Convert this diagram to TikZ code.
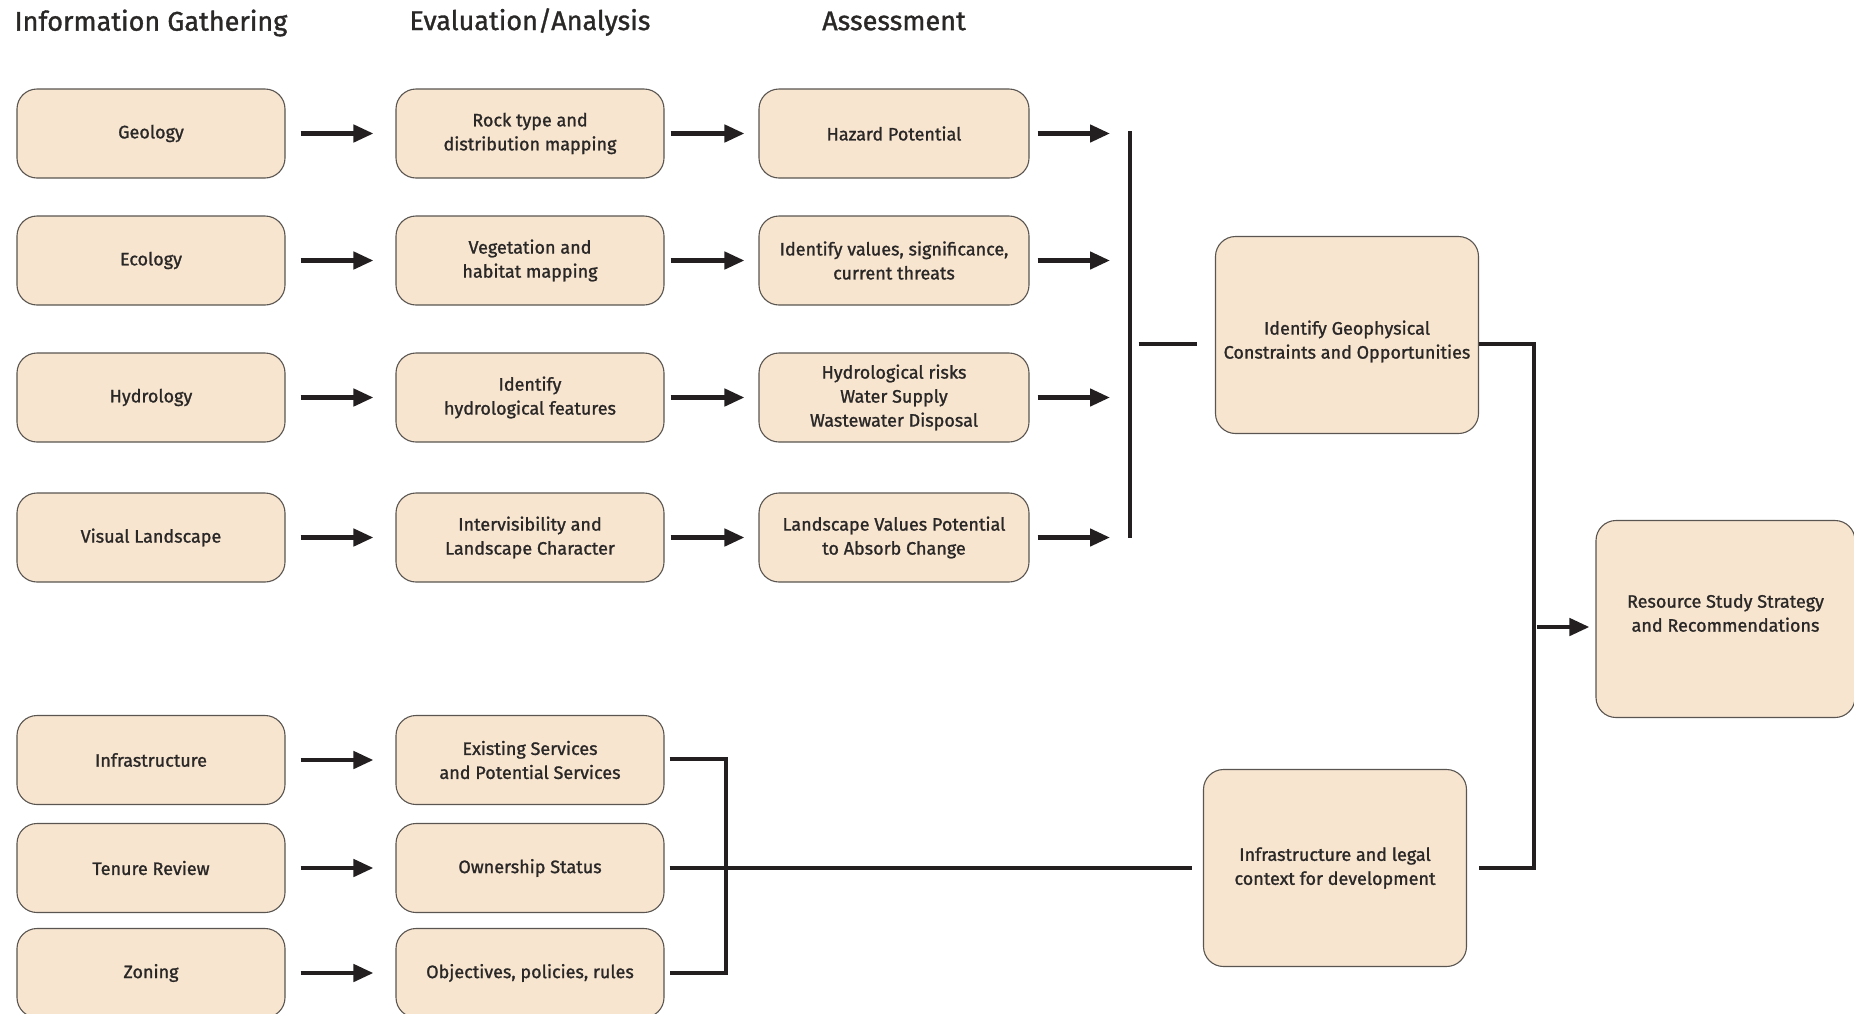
\documentclass[tikz,border=0pt]{standalone}
\usepackage{fontspec}
\setmainfont{Fira Sans}
\newfontfamily\medfont{Fira Sans}[FakeBold=1.2]
\usetikzlibrary{arrows.meta}
\definecolor{boxfill}{HTML}{F7E5D0}
\definecolor{boxline}{HTML}{5A5550}
\definecolor{ink}{HTML}{231F20}
\definecolor{txt}{HTML}{2A2727}
\tikzset{
  stepbox/.style={draw=boxline, line width=1.1pt, fill=boxfill, rounded corners=20pt,
    align=center, text=txt, font=\medfont\fontsize{18}{24}\selectfont, inner sep=0pt},
  small/.style={stepbox, minimum width=268pt, minimum height=89pt},
  big/.style={stepbox, minimum width=263pt, minimum height=197pt},
  boxtext/.style={align=center, text=txt, font=\medfont\fontsize{18}{24}\selectfont, inner sep=0pt},
  heading/.style={text=txt, font=\medfont\fontsize{27}{32}\selectfont, inner sep=0pt},
  arr/.style={draw=ink, line width=4.5pt, -{Triangle[length=20pt,width=17pt]}},
  wire/.style={draw=ink, line width=4pt},
}
\begin{document}
\begin{tikzpicture}[x=1pt,y=-1pt]
\useasboundingbox (0,0) rectangle (1854,1013);
% headings
\node[heading] (h1) at (151,23) {Information Gathering};
\node[heading] (h2) at (530,22) {Evaluation/Analysis};
\node[heading] (h3) at (894,21) {Assessment};
% column 1
\node[small] (geo) at (151,133.5) {Geology};
\node[small] (eco) at (151,260.5) {Ecology};
\node[small] (hyd) at (151,397.5) {Hydrology};
\node[small] (vis) at (151,537.5) {Visual Landscape};
\node[small] (inf) at (151,760) {Infrastructure};
\node[small] (ten) at (151,868) {Tenure Review};
\node[small] (zon) at (151,973) {Zoning};
% column 2
\node[small] (rock) at (530,133.5) {Rock type and\\distribution mapping};
\node[small] (veg) at (530,260.5) {Vegetation and\\habitat mapping};
\node[small] (ihf) at (530,397.5) {Identify\\hydrological features};
\node[small] (intv) at (530,537.5) {Intervisibility and\\Landscape Character};
\node[small] (serv) at (530,760) {Existing Services\\and Potential Services};
\node[small] (own) at (530,868) {Ownership Status};
\node[small] (obj) at (530,973) {Objectives, policies, rules};
% column 3
\node[small, minimum width=270pt] (haz) at (894,133.5) {Hazard Potential};
\node[small, minimum width=270pt] (val) at (894,260.5) {Identify values, significance,\\current threats};
\node[small, minimum width=270pt] (hrisk) at (894,397.5) {Hydrological risks\\Water Supply\\Wastewater Disposal};
\node[small, minimum width=270pt] (land) at (894,537.5) {Landscape Values Potential\\to Absorb Change};
% right side
\node[big] (geoph) at (1347,335) {};
\node[boxtext] (geophT) at ([yshift=-6.5pt]geoph.center) {Identify Geophysical\\Constraints and Opportunities};
\node[big] (legal) at (1335,868) {Infrastructure and legal\\context for development};
\node[big, minimum width=259pt] (res) at (1725.5,619) {};
\node[boxtext] (resT) at ([yshift=6pt]res.center) {Resource Study Strategy\\and Recommendations};
% arrows col1 -> col2
\foreach \a/\b in {geo/rock, eco/veg, hyd/ihf, vis/intv, inf/serv, ten/own, zon/obj}
  \draw[arr, shorten <=15pt, shorten >=22pt] (\a) -- (\b);
% arrows col2 -> col3
\foreach \a/\b in {rock/haz, veg/val, ihf/hrisk, intv/land}
  \draw[arr, shorten <=6pt, shorten >=14pt] (\a) -- (\b);
% bus
\coordinate (bt) at (1130,131);
\coordinate (bb) at (1130,538);
\draw[wire] (bt) -- (bb);
\foreach \a in {haz, val, hrisk, land}
  \draw[arr, shorten <=8pt, shorten >=20pt] (\a.east) -- (\a.east -| bt);
\coordinate (bm) at (1138.6,344);
\draw[wire] (bm) -- (1196.6,344);
% geophysical -> right collector
\coordinate (cx) at (1533.6,344);
\draw[wire] (geoph.east |- cx) -- (cx) -- (cx |- legal) -- ([xshift=12pt]legal.east);
\coordinate (ra) at (1537,627);
\draw[arr, shorten >=6pt] (ra) -- (res.west |- ra);
% bracket bottom left
\coordinate (bx) at (726,759);
\draw[wire] ([xshift=5pt]serv.east |- bx) -- (bx) -- (bx |- obj) -- ([xshift=5pt]obj.east);
\draw[wire, shorten <=5pt, shorten >=11pt] (own.east) -- (own.east -| legal.west);
\end{tikzpicture}
\end{document}
